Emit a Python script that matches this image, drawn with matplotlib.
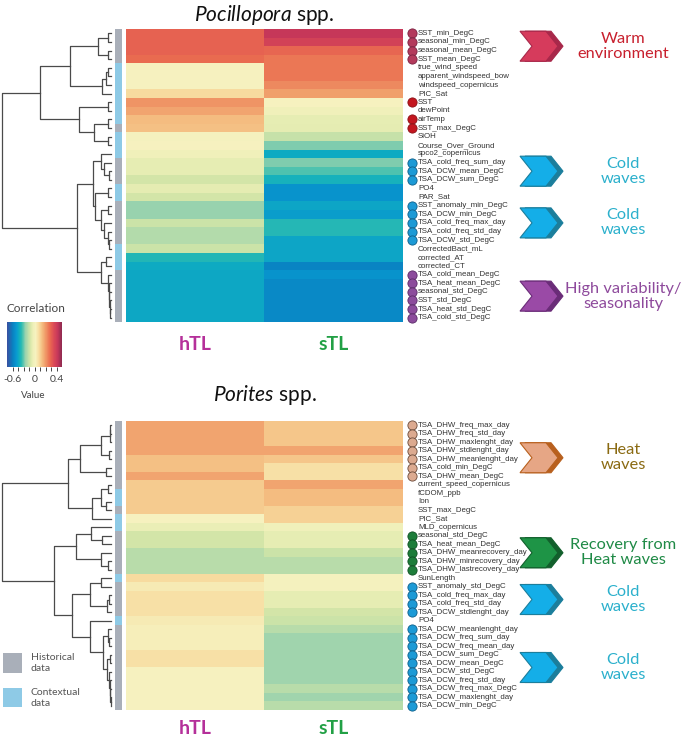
import numpy as np
import matplotlib
matplotlib.use("Agg")
import matplotlib.pyplot as plt
from matplotlib.colors import LinearSegmentedColormap, ListedColormap, TwoSlopeNorm
from matplotlib.patches import Polygon, Rectangle
from matplotlib.cm import ScalarMappable

W, H = 685, 740

# ---- Pocillopora panel ----
POC_LABELS = ["SST_min_DegC", "seasonal_min_DegC", "seasonal_mean_DegC", "SST_mean_DegC",
              "true_wind_speed", "apparent_windspeed_bow", "windspeed_copernicus", "PIC_Sat",
              "SST", "dewPoint", "airTemp", "SST_max_DegC", "SiOH", "Course_Over_Ground",
              "spco2_copernicus", "TSA_cold_freq_sum_day", "TSA_DCW_mean_DegC", "TSA_DCW_sum_DegC",
              "PO4", "PAR_Sat", "SST_anomaly_min_DegC", "TSA_DCW_min_DegC", "TSA_cold_freq_max_day",
              "TSA_cold_freq_std_day", "TSA_DCW_std_DegC", "CorrectedBact_mL", "corrected_AT",
              "corrected_CT", "TSA_cold_mean_DegC", "TSA_heat_mean_DegC", "seasonal_std_DegC",
              "SST_std_DegC", "TSA_heat_std_DegC", "TSA_cold_std_DegC"]
POC_HTL = [0.30, 0.30, 0.30, 0.28, 0.02, 0.02, 0.02, 0.08, 0.21, 0.18, 0.14, 0.13,
           0.01, 0.02, -0.02, -0.06, -0.06, -0.12, -0.07, -0.12, -0.25, -0.25, -0.14,
           -0.19, -0.19, -0.14, -0.38, -0.43, -0.44, -0.44, -0.44, -0.44, -0.44, -0.44]
POC_STL = [0.42, 0.38, 0.29, 0.26, 0.26, 0.26, 0.23, 0.19, 0.02, -0.02, -0.06, -0.07,
           -0.15, -0.27, -0.43, -0.27, -0.32, -0.40, -0.52, -0.52, -0.45, -0.48, -0.37,
           -0.37, -0.45, -0.45, -0.45, -0.58, -0.52, -0.56, -0.56, -0.56, -0.56, -0.56]
# 0 = historical data, 1 = contextual data
POC_SOURCE = [0, 0, 0, 0, 1, 1, 1, 1, 1, 1, 1, 0, 1, 1, 1, 0, 0, 0, 1, 1, 0, 0, 0, 0, 0,
              1, 1, 1, 0, 0, 0, 0, 0, 0]
POC_MARK = ["crimson", "crimson", "crimson", "crimson", "", "", "", "", "red", "", "red", "red",
            "", "", "", "blue", "blue", "blue", "", "", "blue", "blue", "blue", "blue", "blue",
            "", "", "", "purple", "purple", "purple", "purple", "purple", "purple"]
# dendrogram: (merge height, left, right), leaves are row indices
POC_TREE = (1.0,
            (0.65,
             (0.38,
              (0.12, (0.03, 0, 1), (0.03, 2, 3)),
              (0.08, (0.05, (0.03, 4, 5), 6), 7)),
             (0.29, (0.03, 8, 9), (0.155, (0.03, 10, 11), (0.03, 12, 13)))),
            (0.31,
             (0.165,
              (0.09, 14, (0.06, 15, (0.02, 16, 17))),
              (0.145, (0.03, 18, 19),
               (0.09, (0.03, 20, 21), (0.06, 22, (0.03, 23, (0.02, 24, 25)))))),
             (0.09, (0.05, 26, 27),
              (0.03, 28, (0.02, 29, (0.015, 30, (0.01, 31, (0.005, 32, 33))))))))
POC_GROUPS = [(0, 3, "Warm\nenvironment", "warm", 0), (15, 17, "Cold\nwaves", "cold", 0),
              (20, 24, "Cold\nwaves", "cold", 0),
              (28, 33, "High variability/\nseasonality", "purple", 0)]

# ---- Porites panel ----
POR_LABELS = ["TSA_DHW_freq_max_day", "TSA_DHW_freq_std_day", "TSA_DHW_maxlenght_day",
              "TSA_DHW_stdlenght_day", "TSA_DHW_meanlenght_day", "TSA_cold_min_DegC",
              "TSA_DHW_mean_DegC", "current_speed_copernicus", "fCDOM_ppb", "Ion", "SST_max_DegC",
              "PIC_Sat", "MLD_copernicus", "seasonal_std_DegC", "TSA_heat_mean_DegC",
              "TSA_DHW_meanrecovery_day", "TSA_DHW_minrecovery_day", "TSA_DHW_lastrecovery_day",
              "SunLength", "SST_anomaly_std_DegC", "TSA_cold_freq_max_day", "TSA_cold_freq_std_day",
              "TSA_DCW_stdlenght_day", "PO4", "TSA_DCW_meanlenght_day", "TSA_DCW_freq_sum_day",
              "TSA_DCW_freq_mean_day", "TSA_DCW_sum_DegC", "TSA_DCW_mean_DegC", "TSA_DCW_std_DegC",
              "TSA_DCW_freq_std_day", "TSA_DCW_freq_max_DegC", "TSA_DCW_maxlenght_day",
              "TSA_DCW_min_DegC"]
POR_HTL = [0.18, 0.18, 0.18, 0.18, 0.13, 0.13, 0.18, 0.11, 0.11, 0.11, 0.11, 0.02,
           -0.05, -0.12, -0.12, -0.18, -0.18, -0.18, 0.08, 0.04, 0.07, 0.07, 0.07, 0.04,
           0.03, 0.03, 0.03, 0.07, 0.07, 0.02, 0.02, 0.02, 0.02, 0.02]
POR_STL = [0.12, 0.12, 0.12, 0.18, 0.12, 0.07, 0.07, 0.18, 0.14, 0.14, 0.10, 0.10,
           -0.02, -0.06, -0.06, -0.14, -0.18, -0.18, 0.01, 0.01, -0.06, -0.06, -0.12, -0.14,
           -0.18, -0.23, -0.23, -0.23, -0.23, -0.23, -0.23, -0.18, -0.23, -0.18]
POR_SOURCE = [0, 0, 0, 0, 0, 0, 0, 0, 1, 1, 0, 1, 1, 0, 0, 0, 0, 0, 1, 0, 0, 0, 0, 1,
              0, 0, 0, 0, 0, 0, 0, 0, 0, 0]
POR_MARK = ["peach", "peach", "peach", "peach", "peach", "peach", "peach", "", "", "", "", "",
            "", "green", "green", "green", "green", "green", "", "blue", "blue", "blue", "blue",
            "", "blue", "blue", "blue", "blue", "blue", "blue", "blue", "blue", "blue", "blue"]
POR_TREE = (1.0,
            (0.39,
             (0.28,
              (0.09, (0.01, (0.005, 0, 1), 2), (0.02, 3, 4)),
              (0.05, 5, 6)),
             (0.17, (0.09, (0.03, 7, 8), (0.05, 9, 10)), 11)),
            (0.52,
             (0.32, (0.18, 12, (0.08, 13, 14)), (0.09, 15, (0.03, 16, 17))),
             (0.36,
              (0.19, (0.09, 18, 19), (0.04, (0.02, 20, 21), 22)),
              (0.19, 23,
               (0.07, (0.03, 24, (0.02, 25, 26)),
                (0.04, (0.01, 27, 28),
                 (0.02, 29, (0.01, 30, (0.005, 31, (0.003, 32, 33))))))))))
POR_GROUPS = [(0, 6, "Heat\nwaves", "heat", 7), (13, 17, "Recovery from\nHeat waves", "green", 0),
              (19, 22, "Cold\nwaves", "cold", 0), (24, 33, "Cold\nwaves", "cold", 0)]

# colour scale anchors (value, colour)
CMAP_VALUES = [-0.75, -0.6, -0.5, -0.42, -0.35, -0.25, -0.12, -0.04, 0.02, 0.08, 0.14, 0.2,
               0.28, 0.35, 0.42, 0.5]
CMAP_COLORS = ["#3a4fa0", "#0a80c0", "#0898d0", "#10aec0", "#30bcb0", "#98d2ae", "#d4e6a8",
               "#eef0b8", "#f6f2c0", "#f8dca0", "#f4bc80", "#f09a68", "#ea6c50", "#dc4c56",
               "#c8385a", "#8e2a50"]

MARKER_STYLE = {"crimson": ("#b33a5c", "#7a2040"), "red": ("#c3161f", "#8a1015"),
                "blue": ("#1c9ad6", "#0d5f8a"), "purple": ("#8c4c9c", "#5a2a68"),
                "peach": ("#dcaa90", "#6a4a3a"), "green": ("#1d7d3a", "#0f4f22")}
GROUP_STYLE = {"warm": ("#c8202e", "#d63b5c", "#a8284a"),
               "cold": ("#2bb0cc", "#14aee8", "#1b7e9c"),
               "purple": ("#8e4a9c", "#9a4aa6", "#6a2c78"),
               "heat": ("#8a6a12", "#e6a685", "#b8601e"),
               "green": ("#1f8a46", "#1e9446", "#125f2c")}
SOURCE_COLORS = ["#a9afb9", "#8ecae6"]

plt.rcParams["font.family"] = ["Lato", "DejaVu Sans"]
plt.rcParams["mathtext.fontset"] = "custom"
plt.rcParams["mathtext.it"] = "Lato:italic"
plt.rcParams["mathtext.rm"] = "Lato"

norm = TwoSlopeNorm(vmin=-0.75, vcenter=0.0, vmax=0.5)
cmap = LinearSegmentedColormap.from_list(
    "corr", list(zip([float(norm(v)) for v in CMAP_VALUES], CMAP_COLORS)))


def px_axes(fig, x0, y0, x1, y1):
    ax = fig.add_axes([x0 / W, 1 - y1 / H, (x1 - x0) / W, (y1 - y0) / H])
    ax.set_axis_off()
    return ax


def draw_tree(ax, node):
    if isinstance(node, int):
        return node, 0.0
    h, left, right = node
    y1, h1 = draw_tree(ax, left)
    y2, h2 = draw_tree(ax, right)
    ax.plot([h1, h, h, h2], [y1, y1, y2, y2], color="#4a4a4a", lw=0.9, clip_on=False)
    return (y1 + y2) / 2, h


def chevron(ax, x0, yc, w, h, d, face, edge):
    pts = [(x0, yc - h / 2), (x0 + w - d, yc - h / 2), (x0 + w, yc),
           (x0 + w - d, yc + h / 2), (x0, yc + h / 2), (x0 + d, yc)]
    ax.add_patch(Polygon(pts, closed=True, facecolor=face, edgecolor=edge, lw=0.8))


def draw_panel(fig, ov, box, labels, htl, stl, source, marks, tree, groups,
               genus, title_y, col_y):
    x0, y0, x1, y1 = box
    n = len(labels)
    rowh = (y1 - y0) / n

    # dendrogram
    ax_d = px_axes(fig, 2, y0, 111, y1)
    draw_tree(ax_d, tree)
    ax_d.set_xlim(1.0, 0.0)
    ax_d.set_ylim(n - 0.5, -0.5)

    # historical / contextual strip
    ax_s = px_axes(fig, 115, y0, 122, y1)
    ax_s.imshow(np.array(source).reshape(-1, 1), aspect="auto",
                cmap=ListedColormap(SOURCE_COLORS), vmin=0, vmax=1, interpolation="nearest")

    # heatmap
    ax_h = px_axes(fig, x0, y0, x1, y1)
    ax_h.imshow(np.column_stack([htl, stl]), aspect="auto", cmap=cmap, norm=norm,
                interpolation="nearest")

    # row labels with markers
    ax_l = px_axes(fig, 405, y0, 520, y1)
    ax_l.set_xlim(0, 115)
    ax_l.set_ylim(n - 0.5, -0.5)
    for i, (lab, m) in enumerate(zip(labels, marks)):
        if m:
            face, edge = MARKER_STYLE[m]
            ax_l.scatter(7, i, s=44, color=face, edgecolors=edge, linewidths=0.6,
                         zorder=3, clip_on=False)
        ax_l.text(13, i, lab, fontsize=5.7, family="Liberation Sans", color="#333333",
                  va="center", ha="left")

    # chevrons with their captions
    for start, end, text, key, dy in groups:
        tcol, front, back = GROUP_STYLE[key]
        yc = y0 + rowh * (start + end + 1) / 2 + dy
        chevron(ov, 525, yc, 38, 30, 12, back, back)
        chevron(ov, 520, yc, 38, 30, 12, front, back)
        ov.text(623, yc, text, ha="center", va="center", color=tcol, fontsize=11.8,
                linespacing=1.1)

    # titles and column labels
    ov.text((x0 + x1) / 2, title_y, r"$\it{" + genus + "}$ spp.", ha="center",
            va="center", fontsize=15, color="#111111")
    colw = (x1 - x0) / 2
    ov.text(x0 + colw * 0.5, col_y, "hTL", ha="center", va="center", fontsize=14,
            fontweight="bold", color="#b5309a")
    ov.text(x0 + colw * 1.5, col_y, "sTL", ha="center", va="center", fontsize=14,
            fontweight="bold", color="#22a045")


def main():
    fig = plt.figure(figsize=(W / 100, H / 100), dpi=100)
    ov = fig.add_axes([0, 0, 1, 1])
    ov.set_xlim(0, W)
    ov.set_ylim(H, 0)
    ov.set_axis_off()

    draw_panel(fig, ov, (126, 29, 403, 322), POC_LABELS, POC_HTL, POC_STL, POC_SOURCE,
               POC_MARK, POC_TREE, POC_GROUPS, "Pocillopora", 15, 345)
    draw_panel(fig, ov, (126, 421, 403, 710), POR_LABELS, POR_HTL, POR_STL, POR_SOURCE,
               POR_MARK, POR_TREE, POR_GROUPS, "Porites", 395, 728)

    # colour legend
    ov.text(7, 309, "Correlation", ha="left", va="center", fontsize=8.5, color="#444444")
    cax = fig.add_axes([7 / W, 1 - 367 / H, 55 / W, 45 / H])
    cb = fig.colorbar(ScalarMappable(norm=norm, cmap=cmap), cax=cax,
                      orientation="horizontal", ticks=[-0.6, 0, 0.4])
    cb.outline.set_visible(False)
    cb.ax.set_xticklabels(["-0.6", "0", "0.4"])
    cb.ax.xaxis.set_ticks([-0.45, -0.3, -0.15, 0.1, 0.2, 0.3], minor=True)
    cb.ax.tick_params(which="both", length=3, width=0.7, labelsize=7.5, colors="#444444", pad=3)
    ov.text(33, 395, "Value", ha="center", va="center", fontsize=7, color="#444444")

    # data source legend
    ov.add_patch(Rectangle((3, 653), 19, 20, facecolor=SOURCE_COLORS[0], edgecolor="none"))
    ov.add_patch(Rectangle((3, 688), 19, 19, facecolor=SOURCE_COLORS[1], edgecolor="none"))
    ov.text(31, 663, "Historical\ndata", ha="left", va="center", fontsize=7.5,
            color="#555555", linespacing=1.3)
    ov.text(31, 698, "Contextual\ndata", ha="left", va="center", fontsize=7.5,
            color="#555555", linespacing=1.3)

    fig.savefig("out.png", dpi=100)
    plt.close(fig)


if __name__ == "__main__":
    main()
